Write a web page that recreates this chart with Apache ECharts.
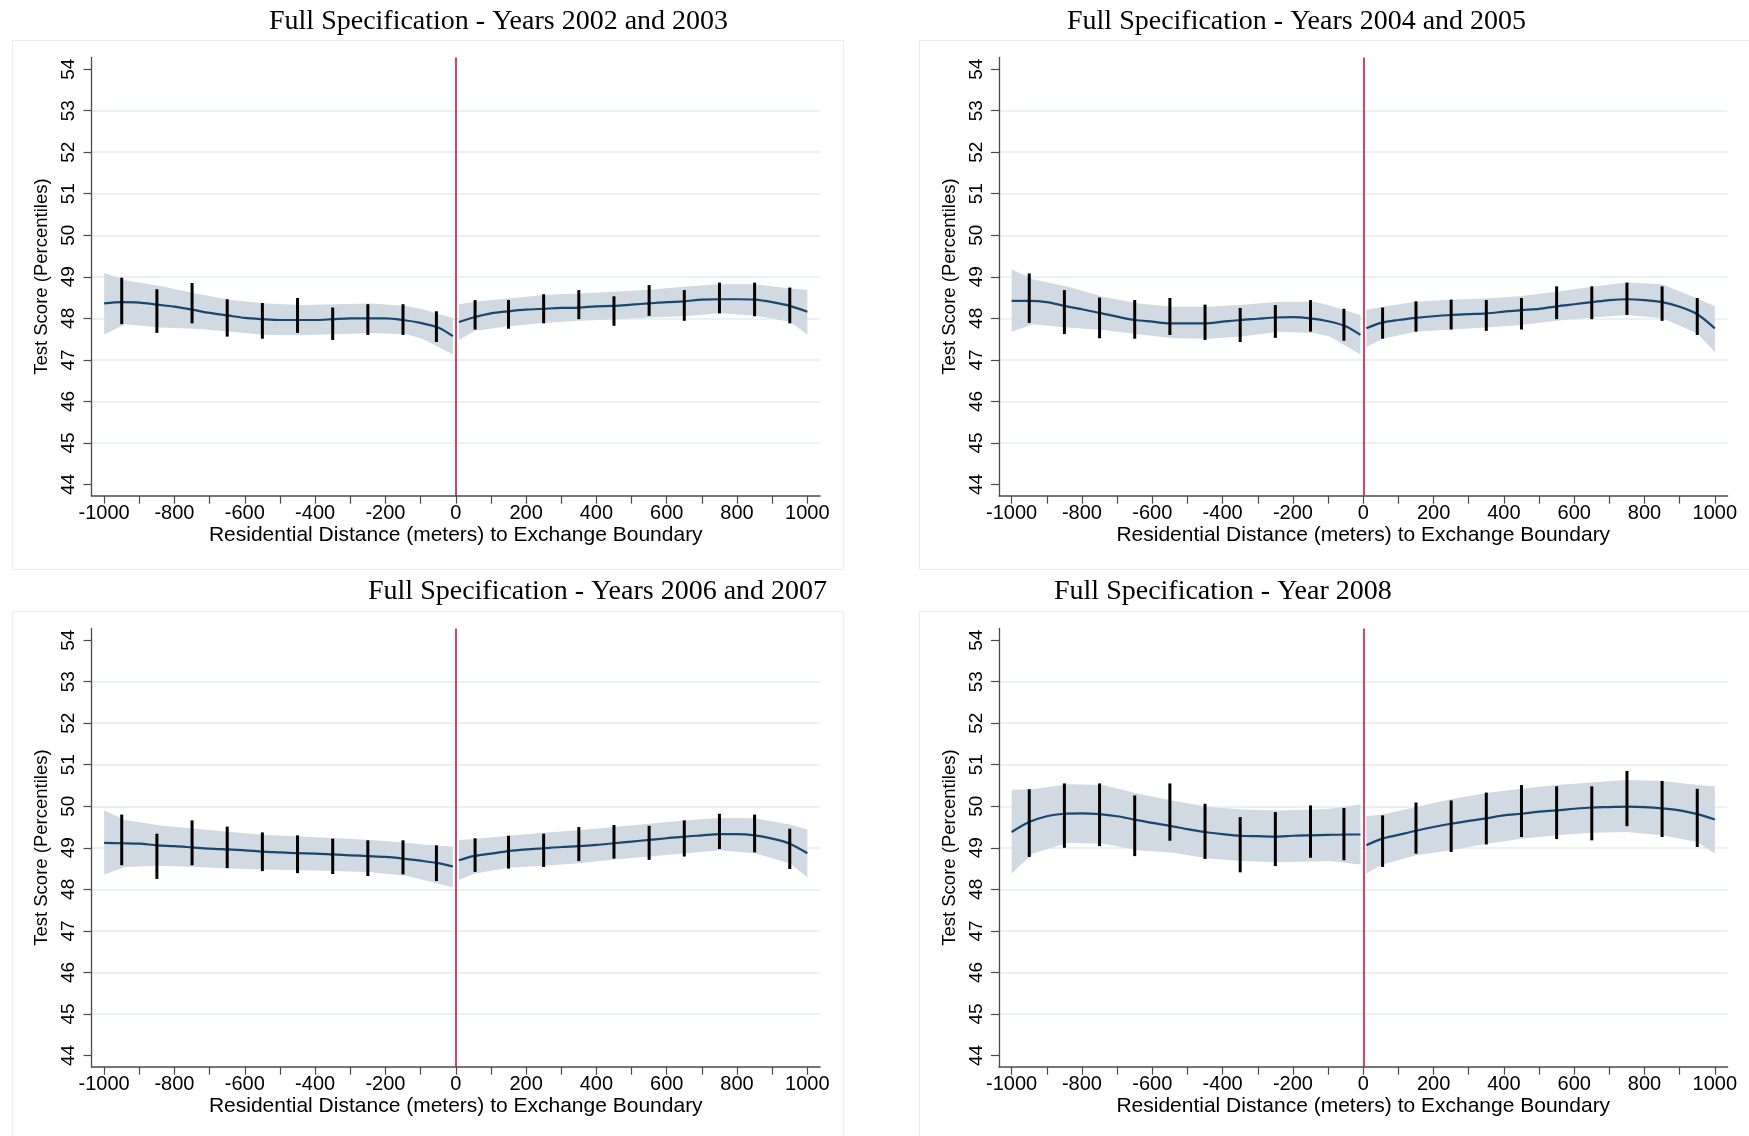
<!DOCTYPE html>
<html>
<head>
<meta charset="utf-8">
<script src="https://cdn.jsdelivr.net/npm/echarts@6/dist/echarts.min.js"></script>
<style>
html,body{margin:0;padding:0;background:#ffffff;}
#chart{width:1749px;height:1136px;}
</style>
</head>
<body>
<div id="chart"></div>
<script>
// ---------- shared x positions (meters) ----------
const lineXLeft  = [-1000,-950,-900,-850,-800,-750,-700,-650,-600,-550,-500,-450,-400,-350,-300,-250,-200,-150,-100,-50,-8];
const lineXRight = [9,50,100,150,200,250,300,350,400,450,500,550,600,650,700,750,800,850,900,950,1000];
const bandXLeft  = [-1000,-940,-840,-740,-640,-540,-440,-340,-240,-140,-95,-8];
const bandXRight = [9,55,150,250,350,450,550,650,750,850,950,1000];
const barXLeft   = [-950,-850,-750,-650,-550,-450,-350,-250,-150,-55];
const barXRight  = [55,150,250,350,450,550,650,750,850,950];

// ---------- tick labels ----------
const xTicks      = [-1000,-900,-800,-700,-600,-500,-400,-300,-200,-100,0,100,200,300,400,500,600,700,800,900,1000];
const xTickLabels = [-1000,-800,-600,-400,-200,0,200,400,600,800,1000];
const yTicks      = [44,45,46,47,48,49,50,51,52,53,54];
const xAxisTitle  = 'Residential Distance (meters) to Exchange Boundary';
const yAxisTitle  = 'Test Score (Percentiles)';

// ---------- Panel A: Years 2002 and 2003 ----------
const titleA = 'Full Specification - Years 2002 and 2003';
const lineLeftA  = [48.36,48.39,48.38,48.33,48.28,48.21,48.13,48.07,48.01,47.98,47.96,47.96,47.96,47.98,48.00,48.00,48.00,47.96,47.89,47.78,47.57];
const lineRightA = [47.91,48.02,48.12,48.17,48.21,48.23,48.25,48.26,48.29,48.30,48.33,48.36,48.39,48.41,48.45,48.46,48.46,48.45,48.39,48.30,48.16];
const bandUpLeftA  = [49.10,48.92,48.78,48.60,48.44,48.36,48.32,48.34,48.36,48.30,48.22,48.01];
const bandLoLeftA  = [47.61,47.86,47.78,47.75,47.68,47.60,47.59,47.62,47.65,47.62,47.51,47.13];
const bandUpRightA = [48.34,48.40,48.48,48.56,48.60,48.64,48.69,48.76,48.82,48.82,48.72,48.69];
const bandLoRightA = [47.48,47.70,47.81,47.89,47.94,47.97,48.02,48.05,48.12,48.07,47.92,47.61];
const barTopLeftA  = [48.98,48.70,48.85,48.46,48.37,48.49,48.26,48.34,48.34,48.17];
const barBotLeftA  = [47.86,47.65,47.88,47.56,47.51,47.65,47.48,47.60,47.60,47.43];
const barTopRightA = [48.44,48.44,48.58,48.68,48.53,48.80,48.68,48.86,48.86,48.74];
const barBotRightA = [47.73,47.75,47.88,47.98,47.82,48.06,47.94,48.12,48.05,47.88];

// ---------- Panel B: Years 2004 and 2005 ----------
const titleB = 'Full Specification - Years 2004 and 2005';
const lineLeftB  = [48.42,48.42,48.39,48.30,48.22,48.13,48.04,47.96,47.92,47.88,47.88,47.88,47.92,47.96,47.99,48.02,48.03,48.00,47.93,47.81,47.60];
const lineRightB = [47.76,47.89,47.96,48.01,48.05,48.08,48.10,48.12,48.16,48.20,48.23,48.29,48.34,48.39,48.44,48.46,48.44,48.39,48.28,48.10,47.76];
const bandUpLeftB  = [49.18,48.94,48.76,48.52,48.36,48.28,48.28,48.33,48.40,48.40,48.31,48.08];
const bandLoLeftB  = [47.68,47.86,47.78,47.72,47.62,47.52,47.51,47.57,47.68,47.65,47.56,47.13];
const bandUpRightB = [48.20,48.28,48.40,48.45,48.48,48.54,48.64,48.76,48.86,48.82,48.48,48.29];
const bandLoRightB = [47.31,47.51,47.68,47.73,47.78,47.84,47.94,48.02,48.08,48.00,47.64,47.19];
const barTopLeftB  = [49.08,48.68,48.50,48.44,48.49,48.33,48.25,48.32,48.44,48.23];
const barBotLeftB  = [47.89,47.62,47.52,47.51,47.60,47.48,47.43,47.53,47.68,47.46];
const barTopRightB = [48.26,48.41,48.45,48.44,48.49,48.77,48.77,48.86,48.77,48.49];
const barBotRightB = [47.51,47.68,47.73,47.70,47.73,47.98,47.98,48.08,47.94,47.60];

// ---------- Panel C: Years 2006 and 2007 ----------
const titleC = 'Full Specification - Years 2006 and 2007';
const lineLeftC  = [49.12,49.11,49.10,49.06,49.04,49.01,48.98,48.96,48.94,48.91,48.89,48.87,48.86,48.84,48.82,48.80,48.78,48.74,48.69,48.63,48.55];
const lineRightC = [48.70,48.80,48.86,48.92,48.96,48.99,49.02,49.04,49.07,49.11,49.15,49.19,49.23,49.27,49.30,49.33,49.33,49.30,49.22,49.10,48.87];
const bandUpLeftC  = [49.90,49.67,49.54,49.46,49.38,49.31,49.27,49.23,49.19,49.12,49.08,49.03];
const bandLoLeftC  = [48.36,48.54,48.57,48.54,48.50,48.48,48.46,48.44,48.41,48.33,48.23,48.05];
const bandUpRightC = [49.19,49.21,49.29,49.36,49.42,49.50,49.58,49.66,49.72,49.71,49.56,49.44];
const bandLoRightC = [48.23,48.38,48.52,48.57,48.63,48.72,48.79,48.86,48.94,48.87,48.63,48.29];
const barTopLeftC  = [49.80,49.34,49.66,49.51,49.37,49.30,49.22,49.18,49.18,49.06];
const barBotLeftC  = [48.58,48.25,48.58,48.51,48.44,48.39,48.37,48.32,48.36,48.20];
const barTopRightC = [49.23,49.29,49.34,49.50,49.55,49.53,49.66,49.82,49.80,49.46];
const barBotRightC = [48.42,48.50,48.54,48.68,48.74,48.71,48.79,48.97,48.89,48.49];

// ---------- Panel D: Year 2008 ----------
const titleD = 'Full Specification - Year 2008';
const lineLeftD  = [49.38,49.62,49.76,49.82,49.83,49.81,49.76,49.68,49.60,49.53,49.45,49.38,49.33,49.29,49.28,49.27,49.29,49.30,49.31,49.32,49.32];
const lineRightD = [49.06,49.21,49.31,49.41,49.50,49.58,49.65,49.71,49.78,49.82,49.87,49.90,49.94,49.97,49.98,49.99,49.98,49.95,49.90,49.81,49.68];
const bandUpLeftD  = [50.40,50.41,50.53,50.51,50.30,50.13,49.98,49.92,49.90,49.92,49.94,50.04];
const bandLoLeftD  = [48.38,48.86,49.12,49.10,48.94,48.88,48.74,48.68,48.65,48.67,48.68,48.60];
const bandUpRightD = [49.76,49.80,49.98,50.17,50.32,50.42,50.51,50.57,50.63,50.61,50.51,50.48];
const bandLoRightD = [48.38,48.60,48.82,48.94,49.10,49.22,49.30,49.36,49.38,49.30,49.14,48.86];
const barTopLeftD  = [50.41,50.55,50.55,50.26,50.55,50.06,49.74,49.86,50.02,49.96];
const barBotLeftD  = [48.78,49.00,49.04,48.80,49.17,48.73,48.41,48.56,48.76,48.70];
const barTopRightD = [49.78,50.09,50.14,50.33,50.51,50.48,50.48,50.85,50.61,50.42];
const barBotRightD = [48.54,48.86,48.90,49.08,49.26,49.21,49.18,49.52,49.26,49.02];

// ---------- assemble ----------
const panels = [
  {title:titleA, lineL:lineLeftA, lineR:lineRightA, bUL:bandUpLeftA, bLL:bandLoLeftA, bUR:bandUpRightA, bLR:bandLoRightA, tL:barTopLeftA, lL:barBotLeftA, tR:barTopRightA, lR:barBotRightA},
  {title:titleB, lineL:lineLeftB, lineR:lineRightB, bUL:bandUpLeftB, bLL:bandLoLeftB, bUR:bandUpRightB, bLR:bandLoRightB, tL:barTopLeftB, lL:barBotLeftB, tR:barTopRightB, lR:barBotRightB},
  {title:titleC, lineL:lineLeftC, lineR:lineRightC, bUL:bandUpLeftC, bLL:bandLoLeftC, bUR:bandUpRightC, bLR:bandLoRightC, tL:barTopLeftC, lL:barBotLeftC, tR:barTopRightC, lR:barBotRightC},
  {title:titleD, lineL:lineLeftD, lineR:lineRightD, bUL:bandUpLeftD, bLL:bandLoLeftD, bUR:bandUpRightD, bLR:bandLoRightD, tL:barTopLeftD, lL:barBotLeftD, tR:barTopRightD, lR:barBotRightD}
];

// layout (pixels)
const layout = [
  {gx:91.5, gy:57.5,  tx:269,  ty:8,   bx:10,  by:38},
  {gx:999,  gy:57.5,  tx:1067, ty:8,   bx:917, by:38},
  {gx:91.5, gy:628.5, tx:368,  ty:578, bx:10,  by:609},
  {gx:999,  gy:628.5, tx:1054, ty:578, bx:917, by:609}
];
const GW = 728.5, GH = 438.2;

const SANS = 'Liberation Sans, Arial, Helvetica, sans-serif';
const SERIF = 'Liberation Serif, Times New Roman, serif';
const AXIS_COLOR = '#4a4a4a';

function bandRender(params, api) {
  if (params.dataIndexInside !== 0) return null;
  const n = params.dataInsideLength;
  const pts = [];
  for (let k = 0; k < n; k++) pts.push(api.coord([api.value(0, k), api.value(2, k)]));
  for (let k = n - 1; k >= 0; k--) pts.push(api.coord([api.value(0, k), api.value(1, k)]));
  return {type:'polygon', shape:{points:pts}, style:{fill:'#d1d9e2'}};
}
function barRender(params, api) {
  const p1 = api.coord([api.value(0), api.value(1)]);
  const p2 = api.coord([api.value(0), api.value(2)]);
  return {type:'line', shape:{x1:p1[0], y1:p1[1], x2:p2[0], y2:p2[1]}, style:{stroke:'#000000', lineWidth:3}};
}
function triples(xs, a, b) { return xs.map((x, k) => [x, a[k], b[k]]); }
function pairs(xs, v) { return xs.map((x, k) => [x, v[k]]); }

const grid = [], xAxis = [], yAxis = [], series = [], title = [], graphic = [];

panels.forEach((p, i) => {
  const L = layout[i];
  grid.push({left:L.gx, top:L.gy, width:GW, height:GH, containLabel:false, outerBoundsMode:'none'});
  title.push({text:p.title, left:L.tx, top:L.ty, padding:0,
    textStyle:{fontFamily:SERIF, fontSize:28, fontWeight:'normal', color:'#000000'}});
  graphic.push({type:'rect', left:L.bx, top:L.by, shape:{width:831, height:529}, z:-10,
    style:{fill:'none', stroke:'#e8edef', lineWidth:1}, silent:true});

  xAxis.push({
    gridIndex:i, type:'value', min:-1036, max:1036,
    axisLine:{show:true, onZero:false, lineStyle:{color:AXIS_COLOR, width:1.6}},
    axisTick:{show:true, length:8, customValues:xTicks, lineStyle:{color:AXIS_COLOR, width:1.2}},
    axisLabel:{show:true, customValues:xTickLabels, margin:8, fontSize:20, fontFamily:SANS, color:'#000000',
      formatter:(v) => String(Math.round(v))},
    splitLine:{show:false},
    name:xAxisTitle, nameLocation:'middle', nameGap:27,
    nameTextStyle:{fontSize:21, fontFamily:SANS, color:'#000000', verticalAlign:'top'}
  });
  yAxis.push({
    gridIndex:i, type:'value', min:43.73, max:54.28, minInterval:1, maxInterval:1,
    axisLine:{show:true, onZero:false, lineStyle:{color:AXIS_COLOR, width:1.3}},
    axisTick:{show:true, length:8, customValues:yTicks, lineStyle:{color:AXIS_COLOR, width:1.2}},
    axisLabel:{show:true, customValues:yTicks, rotate:90, margin:13, fontSize:19, fontFamily:SANS, color:'#000000'},
    splitLine:{show:true, showMinLine:false, showMaxLine:false, lineStyle:{color:'#e4eef0', width:1.5}},
    name:yAxisTitle, nameLocation:'middle', nameGap:40, nameRotate:90,
    nameTextStyle:{fontSize:18.5, fontFamily:SANS, color:'#000000'}
  });

  // confidence bands
  series.push({type:'custom', xAxisIndex:i, yAxisIndex:i, z:2, silent:true, clip:false,
    encode:{x:0, y:[1,2]}, renderItem:bandRender, data:triples(bandXLeft, p.bLL, p.bUL)});
  series.push({type:'custom', xAxisIndex:i, yAxisIndex:i, z:2, silent:true, clip:false,
    encode:{x:0, y:[1,2]}, renderItem:bandRender, data:triples(bandXRight, p.bLR, p.bUR)});
  // fitted lines
  series.push({type:'line', xAxisIndex:i, yAxisIndex:i, z:3, silent:true, showSymbol:false, smooth:0.3,
    lineStyle:{color:'#1a476f', width:2.2}, data:pairs(lineXLeft, p.lineL),
    markLine:{silent:true, symbol:['none','none'], label:{show:false},
      lineStyle:{color:'#d0143c', width:1.6, type:'solid'}, data:[{xAxis:0}]}});
  series.push({type:'line', xAxisIndex:i, yAxisIndex:i, z:3, silent:true, showSymbol:false, smooth:0.3,
    lineStyle:{color:'#1a476f', width:2.2}, data:pairs(lineXRight, p.lineR)});
  // bin error bars
  series.push({type:'custom', xAxisIndex:i, yAxisIndex:i, z:4, silent:true,
    encode:{x:0, y:[1,2]}, renderItem:barRender, data:triples(barXLeft, p.lL, p.tL)});
  series.push({type:'custom', xAxisIndex:i, yAxisIndex:i, z:4, silent:true,
    encode:{x:0, y:[1,2]}, renderItem:barRender, data:triples(barXRight, p.lR, p.tR)});
});

const chart = echarts.init(document.getElementById('chart'), null, {renderer:'canvas'});
chart.setOption({
  animation:false,
  backgroundColor:'#ffffff',
  title, grid, xAxis, yAxis, series, graphic
});
</script>
</body>
</html>
